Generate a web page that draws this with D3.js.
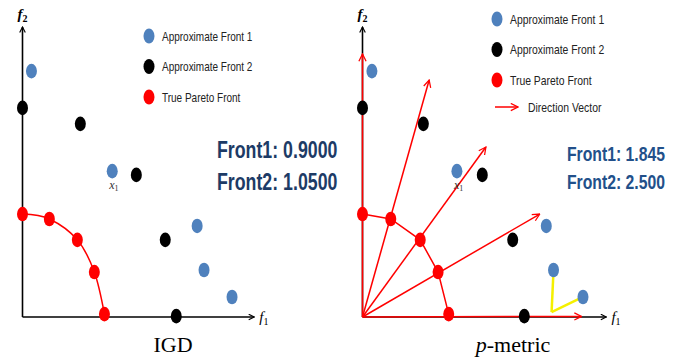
<!DOCTYPE html>
<html lang="en">
<head>
	<meta charset="UTF-8">
	<script src="https://d3js.org/d3.v7.min.js"></script>
	<title>IGD vs p-metric</title>
	<style>
		body { margin: 0; background: #fff; }
		.leg { font-family: "Liberation Sans", Arial, sans-serif; fill: #222; }
		.score { font-family: "Liberation Sans", Arial, sans-serif; font-weight: bold; }
		.serif { font-family: "Liberation Serif", "Times New Roman", serif; }
	</style>
</head>
<body>
	<div id="chart"></div>
	<script>
		// data in (f1, f2) units, same fronts used in both panels
		var front1 = [[0.39, 8.48], [3.91, 5.03], [7.61, 3.14], [7.91, 1.62], [9.13, 0.69]];
		var front2 = [[0, 7.21], [2.52, 6.66], [4.96, 4.9], [6.22, 2.66], [6.70, 0.03]];
		var trueFront = [[0, 3.55], [1.17, 3.38], [2.39, 2.66], [3.13, 1.55], [3.57, 0.1]];
		// direction vectors (tips), all starting at origin
		var directions = [[0, 9.07], [2.76, 8.17], [5.11, 5.86], [7.34, 3.55], [9.07, 0.02]];
		// yellow projection lines for two points of front 1
		var footPoint = [7.83, 0.17];
		var projected = [[7.91, 1.62], [9.13, 0.69]];

		var legendLabels = ["Approximate Front 1", "Approximate Front 2", "True Pareto Front"];
		var legendColors = ["#4f81bd", "#000000", "#ff0000"];
		var igdScores = ["Front1: 0.9000", "Front2: 1.0500"];
		var pScores = ["Front1: 1.845", "Front2: 2.500"];

		var width = 679, height = 364;
		var svg = d3.select("#chart").append("svg")
			.attr("width", width).attr("height", height);

		// condensed-looking text: squeeze horizontally with a transform
		function narrowText(parent, x, y, k, txt) {
			return parent.append("text")
				.attr("transform", "translate(" + x + "," + y + ") scale(" + k + ",1)")
				.text(txt);
		}

		var defs = svg.append("defs");
		defs.append("marker").attr("id", "blackArrow")
			.attr("viewBox", "0 0 10 10").attr("refX", 9).attr("refY", 5)
			.attr("markerWidth", 7).attr("markerHeight", 7).attr("markerUnits", "userSpaceOnUse")
			.attr("orient", "auto")
			.append("path").attr("d", "M1,1 L9,5 L1,9").attr("fill", "none")
			.attr("stroke", "#000").attr("stroke-width", 1.6);
		defs.append("marker").attr("id", "redArrow")
			.attr("viewBox", "0 0 10 10").attr("refX", 9).attr("refY", 5)
			.attr("markerWidth", 9).attr("markerHeight", 9).attr("markerUnits", "userSpaceOnUse")
			.attr("orient", "auto")
			.append("path").attr("d", "M1,1 L9,5 L1,9").attr("fill", "none")
			.attr("stroke", "#ff0000").attr("stroke-width", 1.4);

		var y = d3.scaleLinear().domain([0, 10]).range([317, 27]);

		function drawPanel(x, opts) {
			var g = svg.append("g");

			// axes
			g.append("line").attr("x1", x(0)).attr("y1", y(0)).attr("x2", x(10.1)).attr("y2", y(0))
				.attr("stroke", "#000").attr("stroke-width", 1.6).attr("marker-end", "url(#blackArrow)");
			g.append("line").attr("x1", x(0)).attr("y1", y(0)).attr("x2", x(0)).attr("y2", y(10))
				.attr("stroke", "#000").attr("stroke-width", 1.6).attr("marker-end", "url(#blackArrow)");

			// axis labels
			var f2 = g.append("text").attr("class", "serif").attr("x", x(0) - 5).attr("y", 19)
				.attr("font-size", 15).attr("font-style", "italic").attr("font-weight", "bold").text("f");
			f2.append("tspan").attr("font-size", 10).attr("font-style", "normal").attr("dy", 3).text("2");
			var f1 = g.append("text").attr("class", "serif").attr("x", x(10.1) + 5).attr("y", y(0) + 5)
				.attr("font-size", 15).attr("font-style", "italic").text("f");
			f1.append("tspan").attr("font-size", 10).attr("font-style", "normal").attr("dy", 3).text("1");

			if (opts.vectors) {
				g.selectAll(".dir").data(directions).join("line").attr("class", "dir")
					.attr("x1", x(0)).attr("y1", y(0))
					.attr("x2", function (d) { return x(d[0]); })
					.attr("y2", function (d) { return y(d[1]); })
					.attr("stroke", "#ff0000").attr("stroke-width", 1.5)
					.attr("marker-end", "url(#redArrow)");
			}

			// true front line
			var line = d3.line()
				.x(function (d) { return x(d[0]); })
				.y(function (d) { return y(d[1]); })
				.curve(opts.vectors ? d3.curveLinear : d3.curveCardinal);
			g.append("path").attr("d", line(trueFront)).attr("fill", "none")
				.attr("stroke", "#ff0000").attr("stroke-width", 1.5);

			if (opts.vectors) {
				g.selectAll(".proj").data(projected).join("line").attr("class", "proj")
					.attr("x1", x(footPoint[0])).attr("y1", y(footPoint[1]))
					.attr("x2", function (d) { return x(d[0]); })
					.attr("y2", function (d) { return y(d[1]); })
					.attr("stroke", "#f5f000").attr("stroke-width", 2.5);
			}

			var sets = [[front1, legendColors[0]], [front2, legendColors[1]], [trueFront, legendColors[2]]];
			sets.forEach(function (s) {
				g.selectAll(null).data(s[0]).join("ellipse")
					.attr("cx", function (d) { return x(d[0]); })
					.attr("cy", function (d) { return y(d[1]); })
					.attr("rx", 5.5).attr("ry", 7.3)
					.attr("fill", s[1]);
			});

			// x1 label near the second point of front 1
			var xl = g.append("text").attr("class", "serif")
				.attr("x", x(front1[1][0]) - 3).attr("y", y(front1[1][1]) + 18)
				.attr("font-size", 12).attr("font-style", "italic").attr("fill", "#333").text("x");
			xl.append("tspan").attr("font-size", 8).attr("font-style", "normal").attr("dy", 2).text("1");

			// legend
			var lg = g.append("g").attr("transform", "translate(" + opts.legX + "," + opts.legY + ")");
			legendLabels.forEach(function (lab, i) {
				lg.append("ellipse").attr("cx", 0).attr("cy", i * opts.legStep).attr("rx", 5.5).attr("ry", 7.5)
					.attr("fill", legendColors[i]);
				narrowText(lg, 13, i * opts.legStep + 4.5, 0.8, lab)
					.attr("class", "leg").attr("font-size", opts.legSize);
			});
			if (opts.vectors) {
				lg.append("line").attr("x1", -2).attr("y1", 88).attr("x2", 21).attr("y2", 88)
					.attr("stroke", "#ff0000").attr("stroke-width", 1.5).attr("marker-end", "url(#redArrow)");
				narrowText(lg, 31, 92.5, 0.8, "Direction Vector")
					.attr("class", "leg").attr("font-size", opts.legSize);
			}

			// scores
			opts.scores.forEach(function (s, i) {
				narrowText(g, opts.scoreX, opts.scoreY[i], opts.scoreK, s)
					.attr("class", "score")
					.attr("font-size", opts.scoreSize).attr("fill", opts.scoreColor);
			});

			// title below
			var t = g.append("text").attr("class", "serif").attr("text-anchor", "middle")
				.attr("x", opts.titleX).attr("y", 352).attr("font-size", 22);
			if (opts.vectors) {
				t.append("tspan").attr("font-style", "italic").text("p");
				t.append("tspan").text("-metric");
			} else {
				t.text("IGD");
			}
		}

		var xLeft = d3.scaleLinear().domain([0, 10]).range([22.5, 252]);
		var xRight = d3.scaleLinear().domain([0, 10]).range([362.5, 604]);

		drawPanel(xLeft, {
			vectors: false, legX: 149, legY: 36, legStep: 30.5, legSize: 12.5,
			scores: igdScores, scoreX: 217, scoreY: [158, 190], scoreSize: 24, scoreK: 0.74,
			scoreColor: "#1d3b66", titleX: 173
		});
		drawPanel(xRight, {
			vectors: true, legX: 497, legY: 19, legStep: 30.5, legSize: 13,
			scores: pScores, scoreX: 567, scoreY: [161, 189], scoreSize: 21, scoreK: 0.75,
			scoreColor: "#22508a", titleX: 513
		});
	</script>
</body>
</html>
